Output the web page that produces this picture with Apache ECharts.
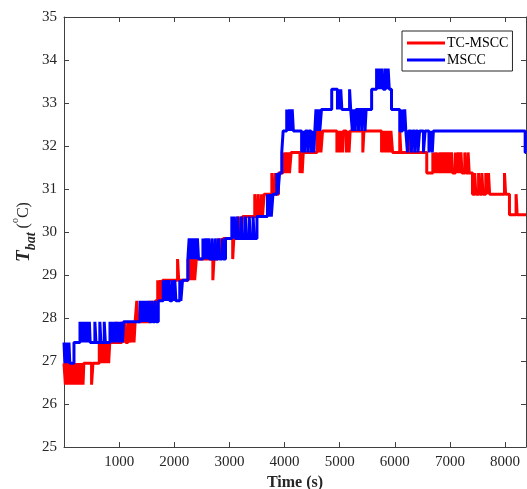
<!DOCTYPE html>
<html>
<head>
<meta charset="utf-8">
<script src="https://cdn.jsdelivr.net/npm/echarts@6/dist/echarts.min.js"></script>
<style>
    html, body {margin: 0; padding: 0; background: #fff;}
    #chart {width: 527px; height: 489px;}
</style>
</head>
<body>
<div id="chart"></div>
<script>
// 坐标轴范围
var xMin = 0;
var xMax = 8380;
var xStep = 1000;
var yMin = 25;
var yMax = 35;
var yStep = 1;

var seriesNames = ["TC-MSCC", "MSCC"];

// [time (s), T_bat] 阶梯点, 读图估计
var tcmscc = [
    [0, 26.95], [25, 26.45], [45, 26.95], [60, 26.45], [85, 26.95], [100, 26.45], [120, 26.95], [135, 26.45],
    [155, 26.95], [170, 26.45], [190, 26.95], [205, 26.45], [225, 26.95], [240, 26.45], [260, 26.95], [275, 26.45],
    [295, 26.95], [310, 26.45], [330, 26.95], [345, 26.45], [360, 26.95],
    [500, 26.45], [525, 26.95],
    [640, 27.43], [660, 26.95], [690, 27.43], [705, 26.95], [725, 27.43], [740, 26.95], [760, 27.43], [775, 26.95],
    [795, 27.43], [810, 26.95], [830, 27.43],
    [950, 27.91], [965, 27.43], [1050, 27.91], [1070, 27.43], [1100, 27.91], [1120, 27.43], [1160, 27.91], [1180, 27.43],
    [1210, 27.91], [1230, 27.43], [1250, 27.91], [1270, 27.43], [1290, 27.91],
    [1320, 28.4], [1340, 27.91],
    [1560, 28.4], [1590, 27.91], [1620, 28.4], [1640, 27.91], [1660, 28.4],
    [1700, 28.88], [1720, 28.4], [1750, 28.88], [1765, 28.4], [1790, 28.88],
    [2060, 29.37], [2080, 28.88],
    [2250, 29.37], [2270, 28.88], [2300, 29.37], [2320, 28.88], [2350, 29.37], [2370, 28.88], [2400, 29.37],
    [2700, 28.88], [2720, 29.37],
    [2790, 29.85], [2810, 29.37], [2840, 29.85], [2860, 29.37], [2890, 29.85],
    [3060, 29.37], [3080, 29.85],
    [3150, 30.36], [3170, 29.85], [3200, 30.36], [3215, 29.85], [3240, 30.36],
    [3460, 30.88], [3480, 30.36], [3520, 30.88], [3540, 30.36], [3580, 30.88], [3600, 30.36], [3630, 30.88],
    [3770, 31.37], [3790, 30.88], [3830, 31.37], [3850, 30.88], [3890, 31.37],
    [3970, 31.85], [3990, 31.37], [4020, 31.85], [4040, 31.37], [4070, 31.85], [4090, 31.37], [4120, 31.85],
    [4280, 31.37], [4300, 31.85], [4320, 31.37], [4340, 31.85],
    [4590, 32.35], [4610, 31.85], [4640, 32.35], [4660, 31.85], [4690, 32.35],
    [4950, 31.85], [4975, 32.35], [5000, 31.85], [5025, 32.35], [5050, 31.85], [5070, 32.35], [5120, 31.85], [5140, 32.35],
    [5170, 31.85], [5190, 32.35],
    [5420, 31.85], [5440, 32.35],
    [5760, 31.85], [5780, 32.35], [5810, 31.85], [5830, 32.35], [5860, 31.85], [5880, 32.35], [5910, 31.85], [5930, 32.35],
    [5960, 31.85],
    [6090, 32.35], [6110, 31.85], [6270, 32.35], [6290, 31.85],
    [6580, 31.37],
    [6690, 31.85], [6710, 31.37], [6740, 31.85], [6760, 31.37], [6790, 31.85], [6805, 31.37], [6830, 31.85], [6850, 31.37],
    [6880, 31.85], [6900, 31.37], [6930, 31.85], [6950, 31.37], [6980, 31.85], [7000, 31.37], [7030, 31.85], [7050, 31.37],
    [7100, 31.85], [7120, 31.37], [7150, 31.85], [7170, 31.37], [7200, 31.85], [7220, 31.37], [7270, 31.85], [7290, 31.37],
    [7330, 31.85], [7350, 31.37],
    [7410, 30.88],
    [7450, 31.37], [7470, 30.88], [7520, 31.37], [7540, 30.88], [7580, 31.37], [7600, 30.88], [7650, 31.37], [7670, 30.88],
    [7700, 31.37], [7720, 30.88],
    [7990, 31.37], [8010, 30.88],
    [8080, 30.4],
    [8200, 30.88], [8220, 30.4],
    [8380, 30.4]
];

var mscc = [
    [0, 27.43], [15, 26.95], [30, 27.43], [45, 26.95], [60, 27.43], [75, 26.95], [90, 27.43], [105, 26.95],
    [181, 27.43],
    [290, 27.91], [305, 27.43], [325, 27.91], [340, 27.43], [360, 27.91], [375, 27.43], [395, 27.91], [410, 27.43],
    [430, 27.91], [445, 27.43], [460, 27.91], [475, 27.43],
    [560, 27.91], [580, 27.43], [650, 27.91], [670, 27.43], [730, 27.91], [750, 27.43],
    [834, 27.91], [850, 27.43], [870, 27.91], [885, 27.43], [905, 27.91], [920, 27.43], [940, 27.91], [955, 27.43],
    [975, 27.91], [990, 27.43], [1010, 27.91], [1025, 27.43], [1045, 27.91], [1060, 27.43], [1080, 27.91],
    [1380, 28.4], [1400, 27.91], [1430, 28.4], [1450, 27.91], [1480, 28.4], [1500, 27.91], [1530, 28.4], [1550, 27.91],
    [1590, 28.4], [1610, 27.91], [1650, 28.4], [1670, 27.91], [1710, 28.4],
    [1800, 28.88], [1820, 28.4], [1850, 28.88], [1870, 28.4], [1900, 28.88], [1920, 28.4], [1960, 28.88], [1980, 28.4],
    [2010, 28.88], [2030, 28.4], [2100, 28.88], [2120, 28.4], [2150, 28.88],
    [2247, 29.37], [2270, 29.85], [2290, 29.37], [2320, 29.85], [2340, 29.37], [2370, 29.85], [2390, 29.37], [2420, 29.85],
    [2440, 29.37],
    [2520, 29.85], [2540, 29.37], [2570, 29.85], [2590, 29.37], [2620, 29.85], [2640, 29.37], [2680, 29.85], [2700, 29.37],
    [2740, 29.85], [2760, 29.37], [2800, 29.85], [2820, 29.37], [2870, 29.85], [2890, 29.37], [2930, 29.85],
    [3044, 30.36], [3060, 29.85], [3090, 30.36], [3110, 29.85], [3150, 30.36], [3170, 29.85], [3220, 30.36], [3240, 29.85],
    [3290, 30.36], [3310, 29.85], [3360, 30.36], [3380, 29.85], [3430, 30.36], [3450, 29.85], [3500, 30.36],
    [3690, 30.88], [3710, 30.36], [3740, 30.88], [3760, 30.36], [3790, 30.88],
    [3860, 31.37], [3880, 30.88], [3910, 31.37],
    [3950, 31.85], [3975, 32.35],
    [4040, 32.85], [4060, 32.35], [4090, 32.85], [4110, 32.35], [4140, 32.85], [4160, 32.35],
    [4310, 31.85], [4330, 32.35], [4360, 31.85], [4380, 32.35], [4420, 31.85], [4440, 32.35], [4480, 31.85], [4500, 32.35],
    [4530, 31.85], [4550, 32.35],
    [4570, 32.85], [4590, 32.35], [4620, 32.85], [4640, 32.35], [4670, 32.85],
    [4856, 33.32], [4960, 32.85], [4980, 33.32], [5000, 32.85], [5020, 33.32], [5040, 32.85],
    [5180, 33.32], [5200, 32.85],
    [5230, 32.35], [5250, 32.85], [5280, 32.35], [5300, 32.85], [5340, 32.35], [5360, 32.85], [5400, 32.35], [5420, 32.85],
    [5460, 32.35], [5480, 32.85],
    [5580, 33.32],
    [5670, 33.8], [5690, 33.32], [5720, 33.8], [5740, 33.32], [5770, 33.8], [5790, 33.32], [5830, 33.8], [5850, 33.32],
    [5880, 33.8], [5900, 33.32],
    [5940, 32.85],
    [6090, 32.35], [6140, 32.85], [6160, 32.35], [6180, 32.85], [6200, 32.35],
    [6230, 31.85], [6250, 32.35], [6300, 31.85], [6320, 32.35], [6360, 31.85], [6380, 32.35], [6420, 31.85], [6450, 32.35],
    [6520, 31.85], [6550, 32.35], [6620, 31.85], [6650, 32.35], [6680, 31.85], [6700, 32.35],
    [8365, 31.85], [8380, 31.85]
];

var fontFamily = "'Liberation Serif', 'Times New Roman', serif";
var axisColor = "#404040";
var textColor = "#262626";

function buildXAxis(position, showLabel) {
    return {
        type: 'value',
        position: position,
        min: xMin,
        max: xMax,
        interval: xStep,
        axisLine: {show: true, onZero: false, lineStyle: {color: axisColor, width: 1}},
        axisTick: {show: true, inside: true, length: 5, lineStyle: {color: axisColor}},
        axisLabel: {
            show: showLabel,
            margin: 8,
            fontFamily: fontFamily,
            fontSize: 15,
            color: textColor,
            showMinLabel: false,
            showMaxLabel: false,
            formatter: function (v) {
                return String(v);
            }
        },
        splitLine: {show: false}
    };
}

function buildYAxis(position, showLabel) {
    return {
        type: 'value',
        position: position,
        min: yMin,
        max: yMax,
        interval: yStep,
        axisLine: {show: true, onZero: false, lineStyle: {color: axisColor, width: 1}},
        axisTick: {show: true, inside: true, length: 5, lineStyle: {color: axisColor}},
        axisLabel: {
            show: showLabel,
            margin: 7,
            fontFamily: fontFamily,
            fontSize: 15,
            color: textColor
        },
        splitLine: {show: false}
    };
}

var myChart = echarts.init(document.getElementById('chart'));
var option = {
    animation: false,
    backgroundColor: '#fff',
    grid: {left: 64, right: 1, top: 17, bottom: 42, containLabel: false, outerBoundsMode: 'none'},
    legend: {
        data: seriesNames,
        orient: 'vertical',
        left: 402,
        top: 31,
        padding: [4, 4, 3, 5],
        itemGap: 1,
        itemWidth: 38,
        itemHeight: 3,
        icon: 'rect',
        backgroundColor: '#fff',
        borderColor: '#262626',
        borderWidth: 1,
        borderRadius: 0,
        textStyle: {fontFamily: fontFamily, fontSize: 14, color: '#000', padding: [0, 0, 0, -3], lineHeight: 16}
    },
    xAxis: [buildXAxis('bottom', true), buildXAxis('top', false)],
    yAxis: [buildYAxis('left', true), buildYAxis('right', false)],
    graphic: [{
        // y轴标题 T_bat (°C)
        type: 'text',
        x: 24,
        y: 232,
        rotation: Math.PI / 2,
        style: {
            text: '{t|T}{s|bat}{p| (}{o|o}{p|C)}',
            align: 'center',
            verticalAlign: 'middle',
            fill: textColor,
            rich: {
                t: {fontFamily: fontFamily, fontSize: 19, fontWeight: 'bold', fontStyle: 'italic', lineHeight: 28, verticalAlign: 'middle'},
                s: {fontFamily: fontFamily, fontSize: 14, fontWeight: 'bold', fontStyle: 'italic', lineHeight: 14, verticalAlign: 'bottom'},
                p: {fontFamily: fontFamily, fontSize: 16, lineHeight: 28, verticalAlign: 'middle'},
                o: {fontFamily: fontFamily, fontSize: 10, lineHeight: 10, verticalAlign: 'top'}
            }
        }
    }, {
        // x轴标题, 底部被裁掉一点
        type: 'text',
        x: 295,
        y: 483,
        style: {
            text: 'Time (s)',
            align: 'center',
            verticalAlign: 'middle',
            fill: textColor,
            font: "bold 16px 'Liberation Serif', serif"
        }
    }],
    series: [
        {
            name: seriesNames[0],
            type: 'line',
            step: 'end',
            showSymbol: false,
            data: tcmscc,
            itemStyle: {color: '#ff0000'},
            lineStyle: {color: '#ff0000', width: 3}
        },
        {
            name: seriesNames[1],
            type: 'line',
            step: 'end',
            showSymbol: false,
            data: mscc,
            itemStyle: {color: '#0000ff'},
            lineStyle: {color: '#0000ff', width: 3}
        }
    ]
};
myChart.setOption(option);
</script>
</body>
</html>
